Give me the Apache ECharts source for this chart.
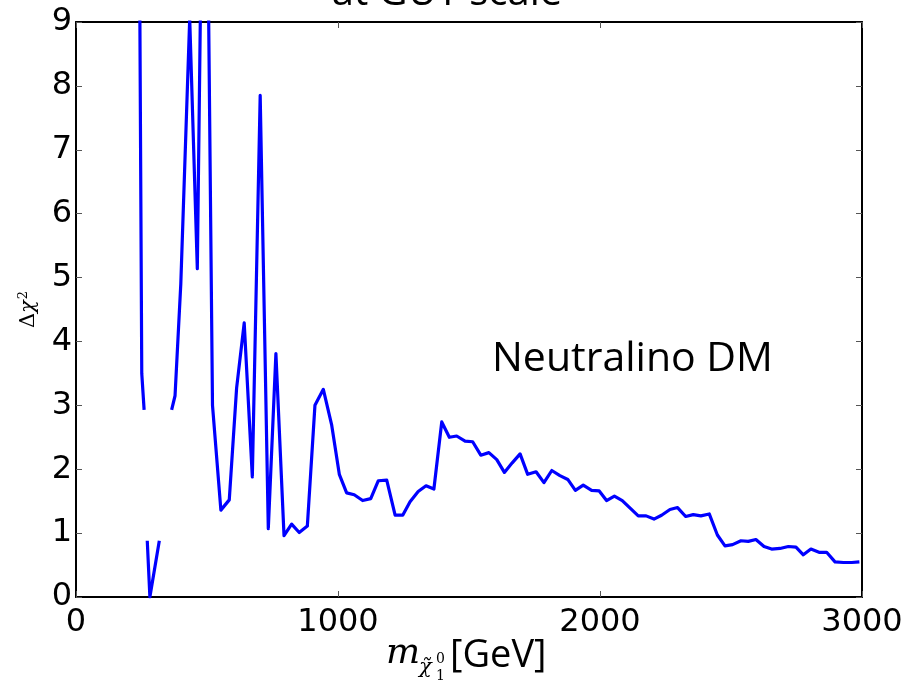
<!DOCTYPE html>
<html>
<head>
<meta charset="utf-8">
<script src="https://cdn.jsdelivr.net/npm/echarts@6/dist/echarts.min.js"></script>
<style>
html,body{margin:0;padding:0;background:#fff;}
#chart{width:914px;height:681px;}
</style>
</head>
<body>
<div id="chart"></div>
<script>
// Neutralino mass [GeV]
const massGeV = [240, 251, 260, 265, 272, 282, 318, 340, 365, 378, 400, 434, 463, 492, 521, 553, 585, 613, 642, 673, 703, 734, 763, 794, 823, 852, 883, 912, 944, 976, 1005, 1033, 1062, 1094, 1125, 1154, 1186, 1218, 1247, 1275, 1306, 1336, 1366, 1396, 1425, 1453, 1485, 1514, 1545, 1576, 1606, 1635, 1665, 1695, 1724, 1756, 1786, 1816, 1847, 1877, 1906, 1936, 1968, 1997, 2025, 2055, 2085, 2115, 2146, 2176, 2206, 2235, 2267, 2296, 2327, 2356, 2385, 2417, 2448, 2477, 2506, 2538, 2566, 2595, 2626, 2655, 2687, 2719, 2748, 2776, 2805, 2836, 2865, 2897, 2929, 2961, 2990];
// Delta chi^2 (null = gap in the curve)
const deltaChi2 = [12, 3.5, 2.93, null, 0.88, 0, 0.88, null, 2.93, 3.15, 4.9, 9.05, 5.14, 15, 3.0, 1.36, 1.52, 3.27, 4.29, 1.88, 7.85, 1.07, 3.81, 0.96, 1.14, 1.01, 1.11, 3.0, 3.25, 2.69, 1.92, 1.63, 1.60, 1.51, 1.54, 1.82, 1.83, 1.28, 1.28, 1.49, 1.65, 1.74, 1.69, 2.74, 2.50, 2.52, 2.44, 2.43, 2.22, 2.26, 2.15, 1.95, 2.10, 2.24, 1.92, 1.96, 1.79, 1.98, 1.90, 1.84, 1.67, 1.75, 1.67, 1.66, 1.51, 1.58, 1.51, 1.39, 1.27, 1.27, 1.22, 1.28, 1.37, 1.40, 1.26, 1.29, 1.27, 1.30, 0.97, 0.80, 0.82, 0.88, 0.87, 0.90, 0.79, 0.75, 0.76, 0.79, 0.78, 0.66, 0.75, 0.70, 0.70, 0.55, 0.54, 0.54, 0.55];
const xTicks = [0, 1000, 2000, 3000];
const yTicks = [0, 1, 2, 3, 4, 5, 6, 7, 8, 9];
const titleText = 'at GUT scale';
const annotation = 'Neutralino DM';

const seriesData = massGeV.map((m, i) => [m, deltaChi2[i] === null ? '-' : deltaChi2[i]]);

const chart = echarts.init(document.getElementById('chart'), null, {renderer: 'canvas'});
const axisCommon = {
  axisLine: {show: true, onZero: false, lineStyle: {color: '#000', width: 2}},
  axisTick: {show: true, inside: true, length: 6, lineStyle: {color: '#555', width: 1}},
  splitLine: {show: false}
};
const option = {
  backgroundColor: '#fff',
  animation: false,
  grid: {left: 76, right: 52, top: 22, bottom: 84, containLabel: false},
  xAxis: [
    Object.assign({}, axisCommon, {
      type: 'value', min: xTicks[0], max: xTicks[xTicks.length - 1], interval: 1000,
      position: 'bottom',
      axisLabel: {show: true, color: '#000', fontFamily: 'DejaVu Sans', fontSize: 32, margin: 10,
        formatter: v => String(v)}
    }),
    Object.assign({}, axisCommon, {
      type: 'value', min: xTicks[0], max: xTicks[xTicks.length - 1], interval: 1000,
      position: 'top', axisLabel: {show: false}
    })
  ],
  yAxis: [
    Object.assign({}, axisCommon, {
      type: 'value', min: yTicks[0], max: yTicks[yTicks.length - 1], interval: 1,
      position: 'left',
      name: '{a|Δ}{b|χ}{c|2}', nameLocation: 'middle', nameGap: 36, nameRotate: 90,
      nameTextStyle: {
        rich: {
          a: {fontFamily: 'DejaVu Serif', fontSize: 21, color: '#000'},
          b: {fontFamily: 'DejaVu Serif', fontStyle: 'italic', fontSize: 21, color: '#000'},
          c: {fontFamily: 'DejaVu Serif', fontSize: 13, color: '#000', verticalAlign: 'top', padding: [0, 0, 10, 1]}
        }
      },
      axisLabel: {show: true, color: '#000', fontFamily: 'DejaVu Sans', fontSize: 32, margin: 4}
    }),
    Object.assign({}, axisCommon, {
      type: 'value', min: yTicks[0], max: yTicks[yTicks.length - 1], interval: 1,
      position: 'right', axisLabel: {show: false}
    })
  ],
  series: [{
    type: 'line',
    data: seriesData,
    xAxisIndex: 0, yAxisIndex: 0,
    showSymbol: false, symbol: 'none',
    connectNulls: false,
    clip: true,
    lineStyle: {color: '#0000ff', width: 3.2, join: 'round'},
    z: 3
  }],
  graphic: [
    {type: 'text', x: 447, y: -6, z: 10,
     style: {text: titleText, font: '40px "Open Sans"', fill: '#000', align: 'center', verticalAlign: 'middle'}},
    {type: 'text', x: 492, y: 359, z: 10,
     style: {text: annotation, font: '41px "Open Sans"', fill: '#000', align: 'left', verticalAlign: 'middle'}},
    {type: 'text', x: 386, y: 654, z: 10,
     style: {text: 'm', font: 'italic 36px "DejaVu Serif"', fill: '#000', align: 'left', verticalAlign: 'middle'}},
    {type: 'text', x: 419, y: 668, z: 10,
     style: {text: 'χ̃', font: 'italic 21px "DejaVu Serif"', fill: '#000', align: 'left', verticalAlign: 'middle'}},
    {type: 'text', x: 436, y: 659, z: 10,
     style: {text: '0', font: '14px "DejaVu Serif"', fill: '#000', align: 'left', verticalAlign: 'middle'}},
    {type: 'text', x: 436, y: 676, z: 10,
     style: {text: '1', font: '14px "DejaVu Serif"', fill: '#000', align: 'left', verticalAlign: 'middle'}},
    {type: 'text', x: 450, y: 656, z: 10,
     style: {text: '[GeV]', font: '38px "Open Sans"', fill: '#000', align: 'left', verticalAlign: 'middle'}}
  ]
};
chart.setOption(option);
</script>
</body>
</html>
